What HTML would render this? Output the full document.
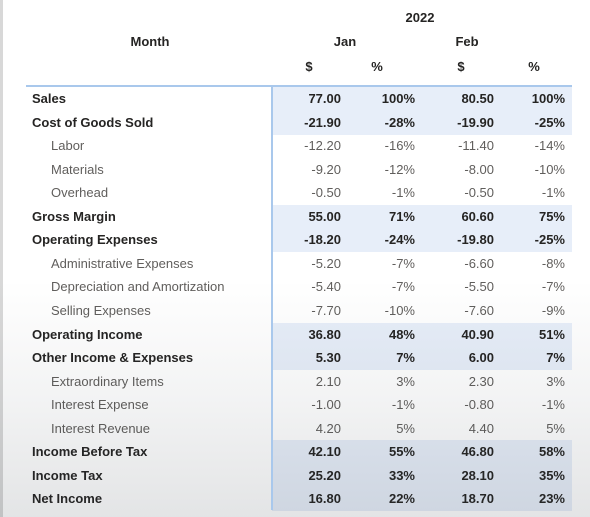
<!DOCTYPE html>
<html><head><meta charset="utf-8">
<style>
html,body{margin:0;padding:0;}
body{width:590px;height:517px;position:relative;overflow:hidden;background:#fff;font-family:"Liberation Sans",sans-serif;}
.t{position:absolute;white-space:nowrap;font-size:13px;line-height:16px;}
.b{font-weight:bold;color:#252423;}
.n{color:#605e5c;}
.r{text-align:right;}
.c{text-align:center;}
.hl{position:absolute;background:#e7eef9;}
#shade{position:absolute;left:0;top:0;width:590px;height:517px;pointer-events:none;
background:linear-gradient(to bottom,rgba(0,0,0,0) 0px,rgba(0,0,0,0) 280px,rgba(40,50,60,0.06) 400px,rgba(40,50,60,0.13) 517px);}
</style></head>
<body>
<div style="position:absolute;left:0;top:0;width:3px;height:517px;background:#d8d8d8;"></div>
<div class="t b c" style="left:380px;top:10px;width:80px;">2022</div>
<div class="t b c" style="left:100px;top:34px;width:100px;">Month</div>
<div class="t b c" style="left:315px;top:34px;width:60px;">Jan</div>
<div class="t b c" style="left:437px;top:34px;width:60px;">Feb</div>
<div class="t b c" style="left:299px;top:59px;width:20px;">$</div>
<div class="t b c" style="left:367px;top:59px;width:20px;">%</div>
<div class="t b c" style="left:451px;top:59px;width:20px;">$</div>
<div class="t b c" style="left:524px;top:59px;width:20px;">%</div>
<div style="position:absolute;left:26px;top:85px;width:546px;height:2px;background:#a9c8ec;"></div>
<div style="position:absolute;left:271px;top:86px;width:2px;height:424px;background:#a9c8ec;z-index:2;"></div>
<div id="rows"></div>
<div id="shade"></div>
<script>
const labels=["Sales","Cost of Goods Sold","Labor","Materials","Overhead","Gross Margin","Operating Expenses","Administrative Expenses","Depreciation and Amortization","Selling Expenses","Operating Income","Other Income & Expenses","Extraordinary Items","Interest Expense","Interest Revenue","Income Before Tax","Income Tax","Net Income"];
const isTotal=[1,1,0,0,0,1,1,0,0,0,1,1,0,0,0,1,1,1];
const janDollar=[77.00,-21.90,-12.20,-9.20,-0.50,55.00,-18.20,-5.20,-5.40,-7.70,36.80,5.30,2.10,-1.00,4.20,42.10,25.20,16.80];
const janPct=[100,-28,-16,-12,-1,71,-24,-7,-7,-10,48,7,3,-1,5,55,33,22];
const febDollar=[80.50,-19.90,-11.40,-8.00,-0.50,60.60,-19.80,-6.60,-5.50,-7.60,40.90,6.00,2.30,-0.80,4.40,46.80,28.10,18.70];
const febPct=[100,-25,-14,-10,-1,75,-25,-8,-7,-9,51,7,3,-1,5,58,35,23];

const root=document.getElementById('rows');
const top0=87, rowH=23.55;
function cell(txt,cls,left,top,width,name){
  const d=document.createElement('div');
  d.className='t '+cls;
  d.style.left=left+'px';d.style.top=top+'px';
  if(width)d.style.width=width+'px';
  d.textContent=txt;
  
  
  root.appendChild(d);
}
labels.forEach((lab,i)=>{
  const y=top0+i*rowH;
  const tot=isTotal[i]===1;
  if(tot){
    const h=document.createElement('div');
    h.className='hl';
    h.style.left='272px';h.style.top=y+'px';h.style.width='300px';h.style.height=(rowH+0.6)+'px';
    
    
    root.appendChild(h);
  }
  const ty=y+4;
  const cls=tot?'b':'n';
  cell(lab,cls,tot?32:51,ty,null,'row-label');
  cell(janDollar[i].toFixed(2),cls+' r',241,ty,100,'jan-dollar-value');
  cell(janPct[i]+'%',cls+' r',315,ty,100,'jan-percent-value');
  cell(febDollar[i].toFixed(2),cls+' r',394,ty,100,'feb-dollar-value');
  cell(febPct[i]+'%',cls+' r',465,ty,100,'feb-percent-value');
});
</script>
</body></html>
